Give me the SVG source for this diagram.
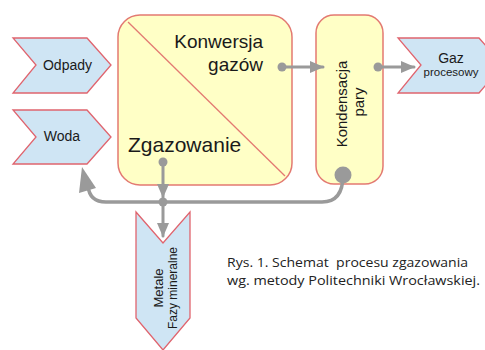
<svg xmlns="http://www.w3.org/2000/svg" width="485" height="350" viewBox="0 0 485 350">
<style>
.io{fill:#cfe5f4;stroke:#e0646e;stroke-width:1.3}
.box{fill:#ffffc6;stroke:#e37a72;stroke-width:1.5}
.t{font-family:"Liberation Sans",Arial,sans-serif;fill:#1a1a1a}
.c{fill:none;stroke:#9a9a9a;stroke-width:3;stroke-linecap:round}
.d{fill:#9a9a9a}
.cap{font-family:"Open Sans","Noto Sans",sans-serif;font-size:13px;fill:#222}
</style>
<defs>
<marker id="ah" markerUnits="userSpaceOnUse" markerWidth="14" markerHeight="12" viewBox="0 0 14 12" refX="13" refY="6" orient="auto">
<path d="M0,0 L14,6 L0,12 z" fill="#9a9a9a"/>
</marker>
</defs>
<g id="odpady">
<path class="io" d="M13,38 L87,38 L111,65 L87,93 L13,93 L36,65 z"/>
<text class="t" x="67.5" y="70" font-size="14" text-anchor="middle">Odpady</text>
</g>
<g id="woda">
<path class="io" d="M13,110 L87,110 L111,137 L87,164 L13,164 L36,137 z"/>
<text class="t" x="62" y="141" font-size="14" text-anchor="middle">Woda</text>
</g>
<g id="reaktor">
<rect class="box" x="118" y="15" width="174" height="170" rx="22"/>
<line x1="128" y1="22" x2="285" y2="176" stroke="#e37a72" stroke-width="1.3"/>
<text class="t" x="263" y="48" font-size="19" text-anchor="end">Konwersja</text>
<text class="t" x="263" y="71" font-size="19" text-anchor="end">gazów</text>
<text class="t" x="128" y="152" font-size="21">Zgazowanie</text>
</g>
<g id="kondensacja">
<rect class="box" x="316" y="15" width="67" height="169" rx="18"/>
<text class="t" font-size="15" text-anchor="middle" transform="translate(347,104) rotate(-90)">Kondensacja</text>
<text class="t" font-size="15" text-anchor="middle" transform="translate(364,102) rotate(-90)">pary</text>
</g>
<g id="gaz">
<path class="io" d="M398,38 L479,38 L503,65 L479,93 L398,93 L421,65 z"/>
<text class="t" x="451" y="63" font-size="14" text-anchor="middle">Gaz</text>
<text class="t" x="451" y="76" font-size="11.5" text-anchor="middle">procesowy</text>
</g>
<g id="metale">
<path class="io" d="M136,212 L163,243 L190,212 L190,318 L163,350 L136,318 z"/>
<text class="t" font-size="13" text-anchor="middle" transform="translate(162.5,288) rotate(-90)">Metale</text>
<text class="t" font-size="12" text-anchor="middle" transform="translate(177,288) rotate(-90)">Fazy mineralne</text>
</g>
<g id="connectors">
<circle class="d" cx="282" cy="67" r="4.5"/>
<path class="c" d="M282,67 L323,67" marker-end="url(#ah)"/>
<circle class="d" cx="378" cy="67" r="4.5"/>
<path class="c" d="M378,67 L414,67" marker-end="url(#ah)"/>
<circle class="d" cx="163" cy="162" r="4.5"/>
<path class="c" d="M163,162 L163,197" marker-end="url(#ah)"/>
<circle class="d" cx="163" cy="202" r="4.5"/>
<path class="c" d="M163,202 L163,236" marker-end="url(#ah)"/>
<path class="c" style="stroke-width:3.5" d="M343,175 C343,193 336,202 322,202 L106,202 C94,202 89,196 88,186"/>
<polygon class="d" points="82,167 96,188 79,193"/>
<circle class="d" cx="343" cy="175" r="8.5"/>
</g>
<g id="caption">
<text class="cap" x="227" y="267" textLength="241" lengthAdjust="spacingAndGlyphs" xml:space="preserve">Rys. 1. Schemat  procesu zgazowania</text>
<text class="cap" x="227" y="285" textLength="253" lengthAdjust="spacingAndGlyphs">wg. metody Politechniki Wrocławskiej.</text>
</g>
</svg>
